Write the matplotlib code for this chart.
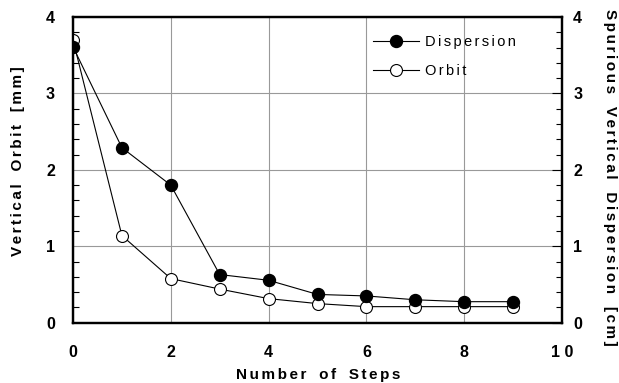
import matplotlib
matplotlib.use("Agg")
import matplotlib.pyplot as plt
from matplotlib.ticker import MultipleLocator

steps = [0, 1, 2, 3, 4, 5, 6, 7, 8, 9]
dispersion = [3.61, 2.29, 1.80, 0.63, 0.555, 0.37, 0.35, 0.30, 0.275, 0.275]
orbit = [3.70, 1.14, 0.577, 0.44, 0.315, 0.25, 0.21, 0.21, 0.21, 0.21]
xticks = [0, 2, 4, 6, 8, 10]
xticklabels = ["0", "2", "4", "6", "8", "1 0"]
yticks = [0, 1, 2, 3, 4]
yticklabels = ["0", "1", "2", "3", "4"]

plt.rcParams['font.family'] = ['Liberation Sans', 'DejaVu Sans']

LS = '\u2006'


def spaced(s, gap='   '):
    words = s.split(' ')
    return gap.join(LS.join(w) for w in words)


W, H = 619, 383
fig = plt.figure(figsize=(W/100, H/100), dpi=100)
ax = fig.add_axes([73/W, 1-322.7/H, (562-73)/W, (322.7-17)/H])

ax.plot(steps, orbit, color='black', lw=0.8, marker='o', ms=8.6, mfc='white',
        mec='black', mew=0.8, label=spaced('Orbit'), zorder=3)
ax.plot(steps, dispersion, color='black', lw=0.8, marker='o', ms=8.6, mfc='black',
        mec='black', label=spaced('Dispersion'), zorder=4)

ax.set_xlim(0, 10)
ax.set_ylim(0, 4)
ax.set_xticks(xticks)
ax.set_xticklabels(xticklabels, fontsize=11.5, fontweight='bold')
ax.set_yticks(yticks)
ax.set_yticklabels(yticklabels, fontsize=11.5, fontweight='bold')
ax.yaxis.set_minor_locator(MultipleLocator(0.2))
ax.grid(True, which='major', color='#999999', lw=0.8)
for s in ax.spines.values():
    s.set_linewidth(1.6)

ax.tick_params(axis='x', length=0, pad=16)
ax.tick_params(axis='y', which='major', direction='in', length=0, pad=13)
ax.tick_params(axis='y', which='minor', direction='in', length=4, width=0.8)

ax2 = ax.twinx()
ax2.set_ylim(0, 4)
ax2.set_yticks(yticks)
ax2.set_yticklabels(yticklabels, fontsize=11.5, fontweight='bold')
ax2.yaxis.set_minor_locator(MultipleLocator(0.2))
ax2.tick_params(axis='y', which='major', direction='in', length=7, width=0.8, pad=8)
ax2.tick_params(axis='y', which='minor', direction='in', length=4, width=0.8)
for s in ax2.spines.values():
    s.set_linewidth(1.6)

fig.text(318/W, 1-375/H, spaced('Number of Steps'), fontsize=11, fontweight='bold',
         ha='center', va='center')
fig.text(18/W, 1-161.5/H, spaced('Vertical Orbit [mm]'), fontsize=11, fontweight='bold',
         ha='center', va='center', rotation=90)
fig.text(610/W, 1-177/H, spaced('Spurious Vertical Dispersion [cm]'), fontsize=11,
         fontweight='bold', ha='center', va='center', rotation=-90)

h, l = ax.get_legend_handles_labels()
ax2.legend([h[1], h[0]], [l[1], l[0]], loc='upper left', bbox_to_anchor=(0.613, 0.94),
           frameon=False, prop={'size': 10.5}, handlelength=3.2, handletextpad=0.35,
           borderpad=0, borderaxespad=0, labelspacing=1.0)

fig.savefig('out.png', dpi=100)
